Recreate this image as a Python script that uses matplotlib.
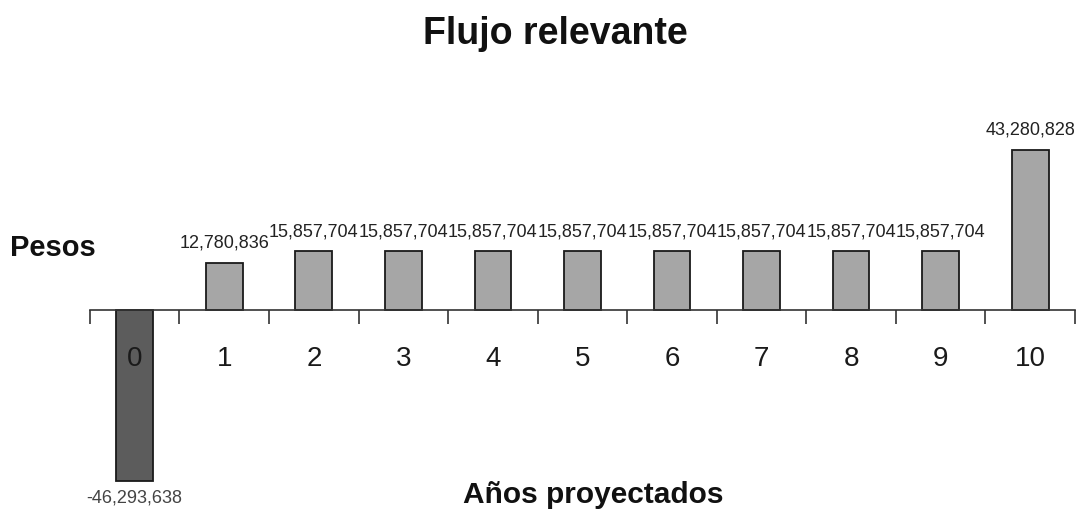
import matplotlib
matplotlib.use("Agg")
import matplotlib.pyplot as plt

plt.rcParams['font.family'] = ['Liberation Sans', 'DejaVu Sans']

years = [0, 1, 2, 3, 4, 5, 6, 7, 8, 9, 10]
flows = [-46293638, 12780836, 15857704, 15857704, 15857704, 15857704,
         15857704, 15857704, 15857704, 15857704, 43280828]
year_labels = [str(y) for y in years]

fig = plt.figure(figsize=(10.89, 5.16), dpi=100)
ax = fig.add_axes([0.0826, 0.0504, 0.9045, 0.698])

colors = ['#5c5c5c' if v < 0 else '#a6a6a6' for v in flows]
bars = ax.bar(years, flows, width=0.41, color=colors, edgecolor='#1a1a1a',
              linewidth=1.3, zorder=2)

for x, v in zip(years, flows):
    label = f"{v:,}"
    if v >= 0:
        ax.annotate(label, (x, v), xytext=(0, 8), textcoords='offset points',
                    ha='center', va='bottom', fontsize=13, color='#222222')
    else:
        ax.annotate(label, (x, v), xytext=(0, -6), textcoords='offset points',
                    ha='center', va='top', fontsize=13, color='#444444')

ax.set_xlim(-0.5, 10.5)
ax.set_ylim(-48.6e6, 48.6e6)

for side in ['top', 'right', 'left']:
    ax.spines[side].set_visible(False)
ax.spines['bottom'].set_position(('data', 0))
ax.spines['bottom'].set_color('#333333')
ax.spines['bottom'].set_linewidth(1.2)
ax.set_yticks([])
ax.set_axisbelow(False)

# boundary ticks between categories, labels centred under each bar
ax.set_xticks([b - 0.5 for b in range(12)])
ax.set_xticklabels([])
ax.tick_params(axis='x', which='major', direction='out', length=10,
               width=1.2, color='#333333')
ax.set_xticks(years, minor=True)
ax.set_xticklabels(year_labels, minor=True)
ax.tick_params(axis='x', which='minor', length=0, pad=26, labelsize=20,
               labelcolor='#1a1a1a')

fig.text(0.51, 0.935, "Flujo relevante", ha='center', va='center',
         fontsize=27, fontweight='bold', color='#111111')
fig.text(0.009, 0.52, "Pesos", ha='left', va='center',
         fontsize=21, fontweight='bold', color='#111111')
fig.text(0.545, 0.04, "Años proyectados", ha='center', va='center',
         fontsize=21.5, fontweight='bold', color='#111111')

fig.savefig("out.png", dpi=100)
